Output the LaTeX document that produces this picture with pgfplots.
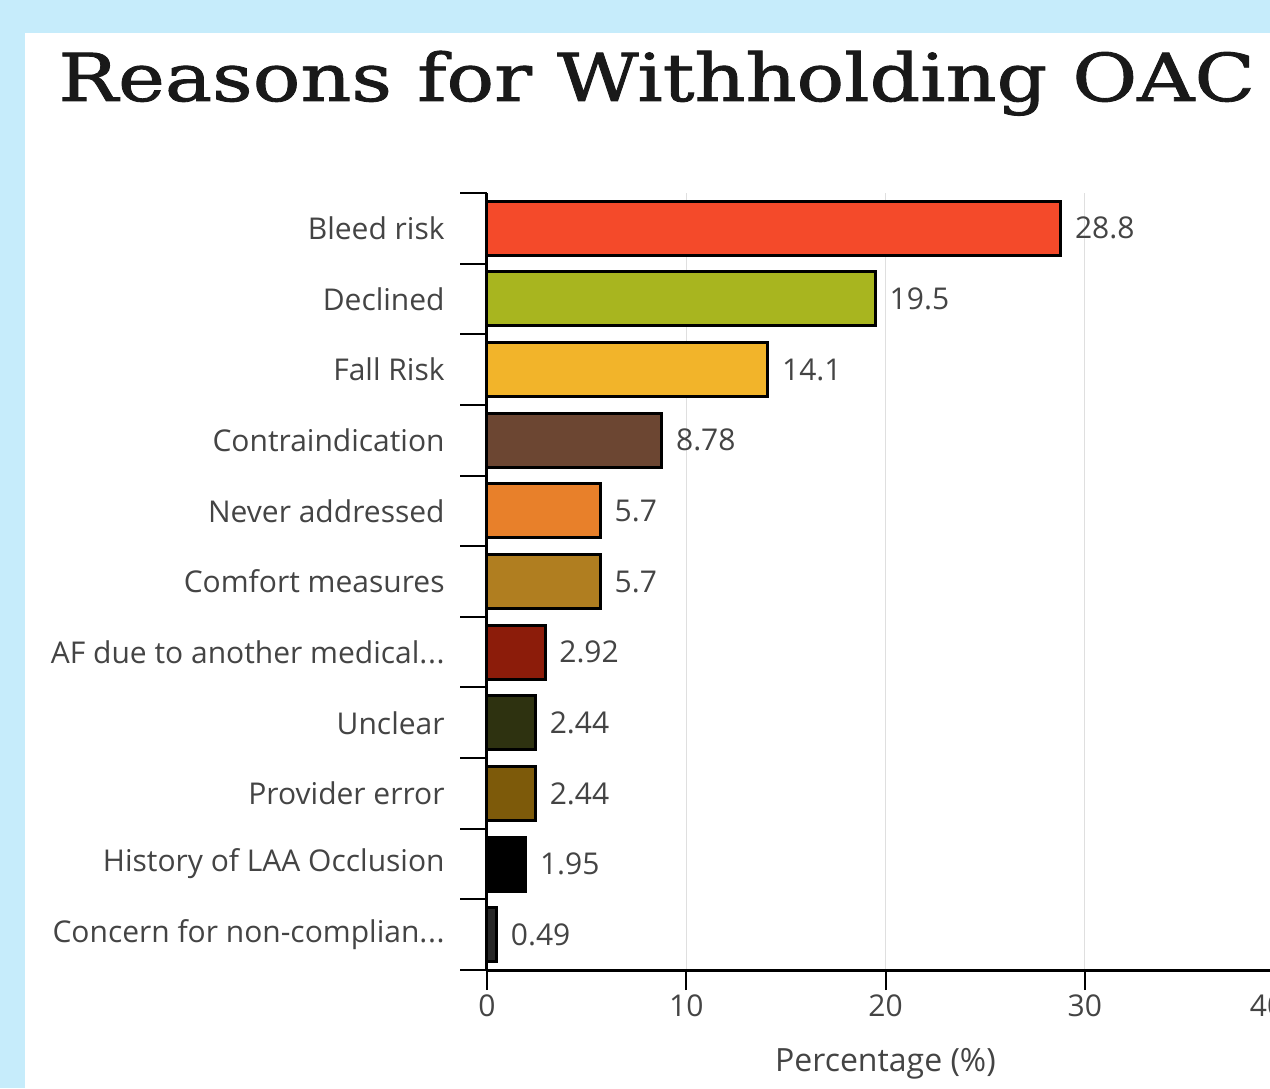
\documentclass[border=0pt]{standalone}
\usepackage{pgfplots}
\pgfplotsset{compat=1.18}
\usepackage{fontspec}
\setmainfont{Open Sans}
\newfontfamily\titlefont[FakeStretch=1.2, FakeBold=1.3]{DejaVu Serif}
\definecolor{bgblue}{RGB}{198,236,251}
\definecolor{lblgray}{RGB}{68,68,68}
\definecolor{c1}{RGB}{244,74,42}
\definecolor{c2}{RGB}{168,181,31}
\definecolor{c3}{RGB}{242,180,42}
\definecolor{c4}{RGB}{108,70,50}
\definecolor{c5}{RGB}{232,128,42}
\definecolor{c6}{RGB}{176,126,32}
\definecolor{c7}{RGB}{140,28,10}
\definecolor{c8}{RGB}{46,50,16}
\definecolor{c9}{RGB}{125,90,10}
\definecolor{c10}{RGB}{0,0,0}
\definecolor{c11}{RGB}{40,40,40}
\newcommand{\eli}{.\kern0.02em.\kern0.02em.}
\begin{document}
\begin{tikzpicture}
\fill[bgblue] (0,0) rectangle (635pt,544pt);
\fill[white] (12.5pt,0) rectangle (635pt,527.5pt);
\node[anchor=base west, inner sep=0pt, font=\titlefont\fontsize{33}{40}\selectfont, text=black!90] at (29pt,493.5pt) {Reasons for Withholding OAC};
\begin{axis}[
  at={(243.5pt,59pt)}, anchor=south west,
  scale only axis, width=398.5pt, height=388.5pt,
  xbar, bar width=27pt,
  xmin=0, xmax=40, ymin=-0.5, ymax=10.5, y dir=reverse,
  axis x line*=bottom, axis y line*=left,
  axis line style={line width=1.5pt, black},
  xtick={0,10,20,30,40},
  xticklabels={0,10,20,30,{\hspace*{-17pt}40}},
  xmajorgrids, grid style={gray!25, line width=0.6pt},
  tick align=outside,
  major tick length=10pt,
  xtick style={line width=1pt, black},
  ytick={0,1,2,3,4,5,6,7,8,9,10},
  major y tick style={draw=none},
  minor ytick={-0.5,0.5,1.5,2.5,3.5,4.5,5.5,6.5,7.5,8.5,9.5,10.5},
  minor tick length=13.5pt,
  minor y tick style={line width=1pt, black},
  yticklabels={{Bleed risk}, {Declined}, {Fall Risk}, {Contraindication}, {Never addressed}, {Comfort measures}, {AF due to another medical\eli}, {Unclear}, {Provider error}, {History of LAA Occlusion}, {Concern for non-complian\eli}},
  yticklabel style={font=\fontsize{15}{18}\selectfont, text=lblgray, inner sep=0pt, xshift=-11pt},
  xticklabel style={font=\fontsize{15}{18}\selectfont, text=lblgray, inner sep=2pt},
  /pgf/number format/assume math mode=true,
  xlabel={Percentage (\%)},
  xlabel style={at={(axis description cs:0.5,0)}, anchor=center, yshift=-47pt, font=\fontsize{16}{19}\selectfont, text=lblgray},
  nodes near coords,
  nodes near coords style={anchor=west, xshift=3pt, font=\fontsize{15}{18}\selectfont, text=lblgray},
  every axis plot/.append style={bar shift=0pt, draw=black, line width=1.5pt},
  clip=false,
]
\addplot[fill=c1] coordinates {(28.8,0)};
\addplot[fill=c2] coordinates {(19.5,1)};
\addplot[fill=c3] coordinates {(14.1,2)};
\addplot[fill=c4] coordinates {(8.78,3)};
\addplot[fill=c5] coordinates {(5.7,4)};
\addplot[fill=c6] coordinates {(5.7,5)};
\addplot[fill=c7] coordinates {(2.92,6)};
\addplot[fill=c8] coordinates {(2.44,7)};
\addplot[fill=c9] coordinates {(2.44,8)};
\addplot[fill=c10] coordinates {(1.95,9)};
\addplot[fill=c11] coordinates {(0.49,10)};
\end{axis}
\pgfresetboundingbox
\useasboundingbox (0,0) rectangle (635pt,544pt);
\end{tikzpicture}
\end{document}
